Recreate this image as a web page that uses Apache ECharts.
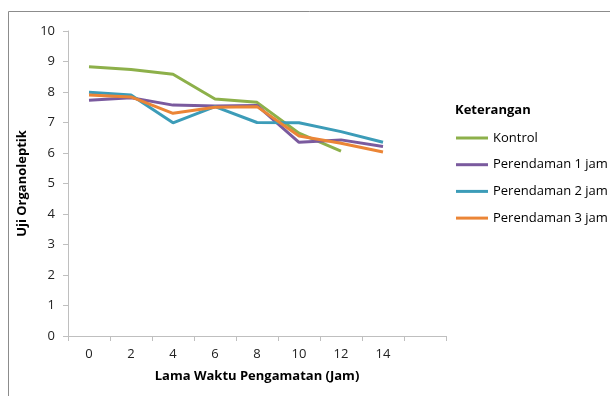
<!DOCTYPE html>
<html>
<head>
<meta charset="utf-8">
<script src="https://cdn.jsdelivr.net/npm/echarts@6/dist/echarts.min.js"></script>
<style>
html,body{margin:0;padding:0;background:#fff;}
#chart{width:610px;height:396px;}
</style>
</head>
<body>
<div id="chart"></div>
<script>
var categories = ['0','2','4','6','8','10','12','14',''];
var kontrol = [8.83, 8.74, 8.58, 7.77, 7.66, 6.65, 6.06, null, null];
var perendaman1 = [7.73, 7.81, 7.57, 7.54, 7.56, 6.35, 6.43, 6.21, null];
var perendaman2 = [7.99, 7.90, 6.99, 7.52, 7.00, 6.99, 6.70, 6.35, null];
var perendaman3 = [7.90, 7.84, 7.30, 7.50, 7.52, 6.56, 6.32, 6.03, null];
var seriesNames = ['Kontrol','Perendaman 1 jam','Perendaman 2 jam','Perendaman 3 jam'];
var colors = ['#8db04a','#7a5a9e','#3c9cb8','#eb8536'];
var FONT = 'Open Sans';

var chart = echarts.init(document.getElementById('chart'), null, {renderer:'canvas'});
function mk(name, data, color){
  return {name:name, type:'line', data:data, symbol:'none', connectNulls:false,
    lineStyle:{color:color, width:3}, itemStyle:{color:color}, animation:false};
}
chart.setOption({
  animation:false,
  textStyle:{fontFamily:FONT},
  graphic:[{type:'rect', shape:{x:8.5,y:11.5,width:700,height:500}, style:{fill:'none',stroke:'#8c8c8c',lineWidth:1}, silent:true}],
  title:{text:'Keterangan', left:450, top:99, textStyle:{fontFamily:FONT,fontSize:13,fontWeight:'bold',color:'#000'}},
  legend:{orient:'vertical', left:451, top:126, icon:'rect', itemWidth:32, itemHeight:3, itemGap:12.7,
    textStyle:{fontFamily:FONT,fontSize:13,color:'#000',lineHeight:14}, data:seriesNames},
  grid:{left:68, top:31, right:164, bottom:60, containLabel:false},
  xAxis:{type:'category', data:categories, boundaryGap:true,
    name:'Lama Waktu Pengamatan (Jam)', nameLocation:'middle', nameGap:34,
    nameTextStyle:{fontFamily:FONT,fontSize:13,fontWeight:'bold',color:'#000'},
    axisLine:{lineStyle:{color:'#bfbfbf',width:1}},
    axisTick:{show:true, alignWithLabel:false, length:5, lineStyle:{color:'#bfbfbf'}},
    axisLabel:{fontFamily:FONT,fontSize:13,color:'#222',margin:12, interval:0},
    splitLine:{show:false}},
  yAxis:{type:'value', min:0, max:10, interval:1,
    name:'Uji Organoleptik', nameLocation:'middle', nameGap:33, nameRotate:90,
    nameTextStyle:{fontFamily:FONT,fontSize:13,fontWeight:'bold',color:'#000'},
    axisLine:{show:true, lineStyle:{color:'#bfbfbf',width:1}},
    axisTick:{show:true, length:5, lineStyle:{color:'#bfbfbf'}},
    axisLabel:{fontFamily:FONT,fontSize:13,color:'#222',margin:13},
    splitLine:{show:false}},
  series:[mk(seriesNames[0],kontrol,colors[0]), mk(seriesNames[1],perendaman1,colors[1]),
          mk(seriesNames[2],perendaman2,colors[2]), mk(seriesNames[3],perendaman3,colors[3])]
});
</script>
</body>
</html>
